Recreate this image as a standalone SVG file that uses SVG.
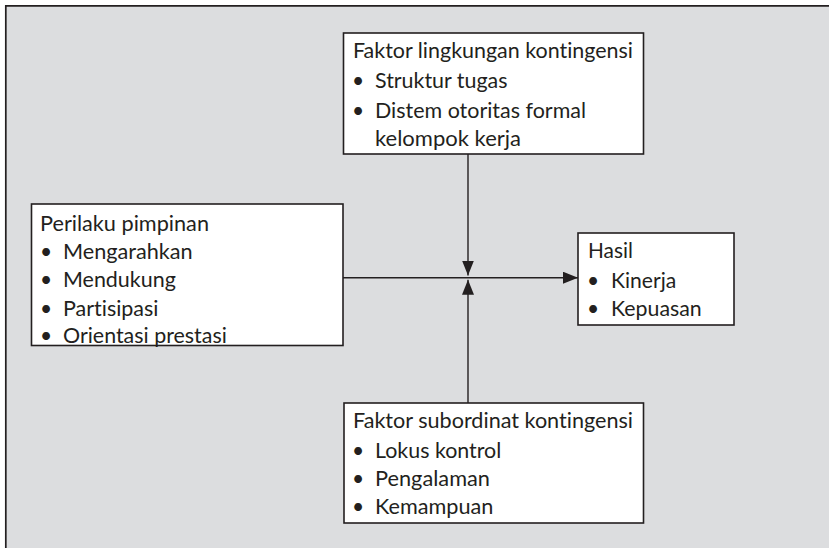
<svg xmlns="http://www.w3.org/2000/svg" width="829" height="548" viewBox="0 0 829 548">
<style>
text{font-family:Lato,"Liberation Sans",sans-serif;font-size:21px;fill:#231f20;font-variant-ligatures:none}
text.b{text-anchor:middle}
.box{fill:#fff;stroke:#231f20;stroke-width:1.6}
.ln{stroke:#231f20;stroke-width:1.4;fill:none}
</style>
<defs>
<marker id="ah" viewBox="0 0 15 12" refX="15" refY="6" markerWidth="15" markerHeight="12" markerUnits="userSpaceOnUse" orient="auto">
<path d="M0,0 L15,6 L0,12 Z" fill="#231f20"/>
</marker>
</defs>
<rect x="0" y="0" width="829" height="548" fill="#fff"/>
<rect x="5" y="5" width="824" height="543" fill="#dcdddf"/>
<path d="M5.8,548 V5.8 H829" fill="none" stroke="#231f20" stroke-width="1.7"/>
<g id="connectors">
<line class="ln" x1="343" y1="277.7" x2="578" y2="277.7" marker-end="url(#ah)"/>
<line class="ln" x1="468" y1="154" x2="468" y2="275.5" marker-end="url(#ah)"/>
<line class="ln" x1="468" y1="403" x2="468" y2="279.8" marker-end="url(#ah)"/>
</g>
<g id="node-lingkungan">
<rect class="box" x="343.5" y="33" width="300" height="121"/>
<text x="353" y="58" textLength="280" lengthAdjust="spacingAndGlyphs">Faktor lingkungan kontingensi</text>
<text class="b" x="358" y="88">•</text><text x="375" y="88" textLength="132.5" lengthAdjust="spacingAndGlyphs">Struktur tugas</text>
<text class="b" x="358" y="118">•</text><text x="375" y="118" textLength="211" lengthAdjust="spacingAndGlyphs">Distem otoritas formal</text>
<text x="375" y="146" textLength="146" lengthAdjust="spacingAndGlyphs">kelompok kerja</text>
</g>
<g id="node-perilaku">
<rect class="box" x="31.5" y="204" width="311.5" height="141.5"/>
<text x="40" y="231" textLength="169" lengthAdjust="spacingAndGlyphs">Perilaku pimpinan</text>
<text class="b" x="46" y="259">•</text><text x="63" y="259" textLength="129.7" lengthAdjust="spacingAndGlyphs">Mengarahkan</text>
<text class="b" x="46" y="287">•</text><text x="63" y="287" textLength="112.8" lengthAdjust="spacingAndGlyphs">Mendukung</text>
<text class="b" x="46" y="316">•</text><text x="63" y="316" textLength="95.5" lengthAdjust="spacingAndGlyphs">Partisipasi</text>
<text class="b" x="46" y="343">•</text><text x="63" y="343" textLength="163.8" lengthAdjust="spacingAndGlyphs">Orientasi prestasi</text>
</g>
<g id="node-hasil">
<rect class="box" x="578" y="233" width="156" height="92"/>
<text x="588" y="258" textLength="44.9" lengthAdjust="spacingAndGlyphs">Hasil</text>
<text class="b" x="593" y="288">•</text><text x="611" y="288" textLength="65.3" lengthAdjust="spacingAndGlyphs">Kinerja</text>
<text class="b" x="593" y="316">•</text><text x="611" y="316" textLength="90.7" lengthAdjust="spacingAndGlyphs">Kepuasan</text>
</g>
<g id="node-subordinat">
<rect class="box" x="344" y="403" width="299.5" height="120"/>
<text x="353" y="428" textLength="280" lengthAdjust="spacingAndGlyphs">Faktor subordinat kontingensi</text>
<text class="b" x="358" y="458">•</text><text x="375" y="458" textLength="126.3" lengthAdjust="spacingAndGlyphs">Lokus kontrol</text>
<text class="b" x="358" y="486">•</text><text x="375" y="486" textLength="115" lengthAdjust="spacingAndGlyphs">Pengalaman</text>
<text class="b" x="358" y="514">•</text><text x="375" y="514" textLength="118.4" lengthAdjust="spacingAndGlyphs">Kemampuan</text>
</g>
</svg>
